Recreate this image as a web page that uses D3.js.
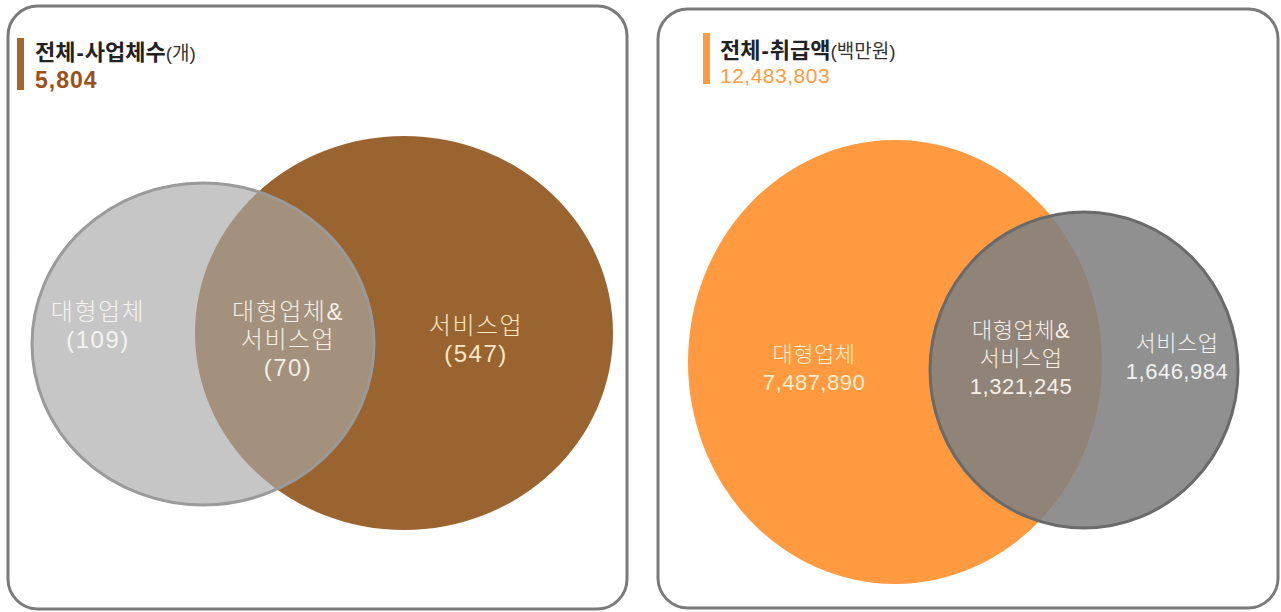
<!DOCTYPE html>
<html>
<head>
<meta charset="utf-8">
<script src="https://cdn.jsdelivr.net/npm/d3@7"></script>
<style>
  body { margin: 0; background: #fff; }
  svg text { font-family: "Liberation Sans", "Noto Sans CJK KR", sans-serif; }
</style>
</head>
<body>
<div id="chart"></div>
<script>
// Data
const setNames = ['대형업체', '대형업체&서비스업', '서비스업'];
const countValues = [109, 70, 547];
const countTotal = 5804;
const amountValues = [7487890, 1321245, 1646984];
const amountTotal = 12483803;

const width = 1281, height = 612;
const fmt = d3.format(',');

const svg = d3.select('#chart')
    .append('svg')
    .attr('width', width)
    .attr('height', height);

// panel layout
const panels = [
    {
        x: 8, y: 6, w: 619, h: 603,
        barX: 17, barY: 38, barH: 52, textX: 35, titleY: 60, valueY: 88,
        title: ['전체', '-', '사업체수'], unit: '(개)',
        total: countTotal, totalColor: '#9c4f1c', totalWeight: 700, totalSize: 23, totalSpacing: 1,
        barColor: '#a3672e',
        values: countValues,
        labelFmt: v => `(${fmt(v)})`,
        labelSize: 24, labelSpacing: 1.5, lineGap: 28,
        // drawn in order: big first, then small translucent one on top
        ellipses: [
            { cx: 404, cy: 333, rx: 209, ry: 197, fill: '#9a6430', stroke: 'none', opacity: 1 },
            { cx: 203, cy: 344, rx: 171, ry: 161, fill: '#a7a7a7', stroke: '#9a9a9a', opacity: 0.65 }
        ],
        labels: [
            { x: 98, y: 320, color: '#f4f3f1' },
            { x: 288, y: 320, color: '#f4efe4' },
            { x: 476, y: 334, color: '#fbe7c6' }
        ]
    },
    {
        x: 658, y: 9, w: 620, h: 599,
        barX: 703, barY: 33, barH: 51, textX: 720, titleY: 58, valueY: 83,
        title: ['전체', '-', '취급액'], unit: '(백만원)',
        total: amountTotal, totalColor: '#ff9a40', totalWeight: 400, totalSize: 21, totalSpacing: 0.5,
        barColor: '#ff9a40',
        values: amountValues,
        labelFmt: v => fmt(v),
        labelSize: 22, labelSpacing: 0.5, lineGap: 28,
        ellipses: [
            { cx: 895, cy: 362, rx: 207, ry: 222, fill: '#ff9a40', stroke: 'none', opacity: 1 },
            { cx: 1084, cy: 370, rx: 154, ry: 158, fill: '#7f7f7f', stroke: '#6a6a6a', opacity: 0.87 }
        ],
        labels: [
            { x: 814, y: 362, color: '#ffedd0' },
            { x: 1021, y: 338, color: '#f6efe6' },
            { x: 1177, y: 351, color: '#f2f2f2' }
        ]
    }
];

panels.forEach(p => {
    const g = svg.append('g');

    // rounded frame
    g.append('rect')
        .attr('x', p.x).attr('y', p.y)
        .attr('width', p.w).attr('height', p.h)
        .attr('rx', 30).attr('ry', 30)
        .attr('fill', '#fff')
        .attr('stroke', '#7a7a7a')
        .attr('stroke-width', 3);

    // ellipses
    g.selectAll('ellipse')
        .data(p.ellipses)
        .join('ellipse')
        .attr('cx', d => d.cx).attr('cy', d => d.cy)
        .attr('rx', d => d.rx).attr('ry', d => d.ry)
        .attr('fill', d => d.fill)
        .attr('fill-opacity', d => d.opacity)
        .attr('stroke', d => d.stroke)
        .attr('stroke-width', 3);

    // title marker + text
    g.append('rect')
        .attr('x', p.barX).attr('y', p.barY)
        .attr('width', 7).attr('height', p.barH)
        .attr('fill', p.barColor);

    const title = g.append('text')
        .attr('x', p.textX).attr('y', p.titleY)
        .attr('font-size', 22)
        .attr('font-weight', 700)
        .attr('fill', '#222');
    title.append('tspan').text(p.title[0]);
    title.append('tspan').attr('dx', 1).text(p.title[1]);
    title.append('tspan').attr('dx', 1).text(p.title[2]);
    title.append('tspan')
        .attr('font-size', 19)
        .attr('font-weight', 400)
        .attr('fill', '#333')
        .text(p.unit);

    g.append('text')
        .attr('x', p.textX).attr('y', p.valueY)
        .attr('font-size', p.totalSize)
        .attr('font-weight', p.totalWeight)
        .attr('letter-spacing', p.totalSpacing)
        .attr('fill', p.totalColor)
        .text(fmt(p.total));

    // set labels, one text per line
    p.labels.forEach((l, i) => {
        const parts = setNames[i].split('&');
        const lines = parts.length > 1
            ? [parts[0] + '&', parts[1], p.labelFmt(p.values[i])]
            : [setNames[i], p.labelFmt(p.values[i])];
        g.selectAll(null)
            .data(lines)
            .join('text')
            .attr('x', l.x)
            .attr('y', (s, j) => l.y + j * p.lineGap)
            .attr('text-anchor', 'middle')
            .attr('font-size', p.labelSize)
            .attr('font-weight', 300)
            .attr('letter-spacing', p.labelSpacing)
            .attr('fill', l.color)
            .text(s => s);
    });
});
</script>
</body>
</html>
